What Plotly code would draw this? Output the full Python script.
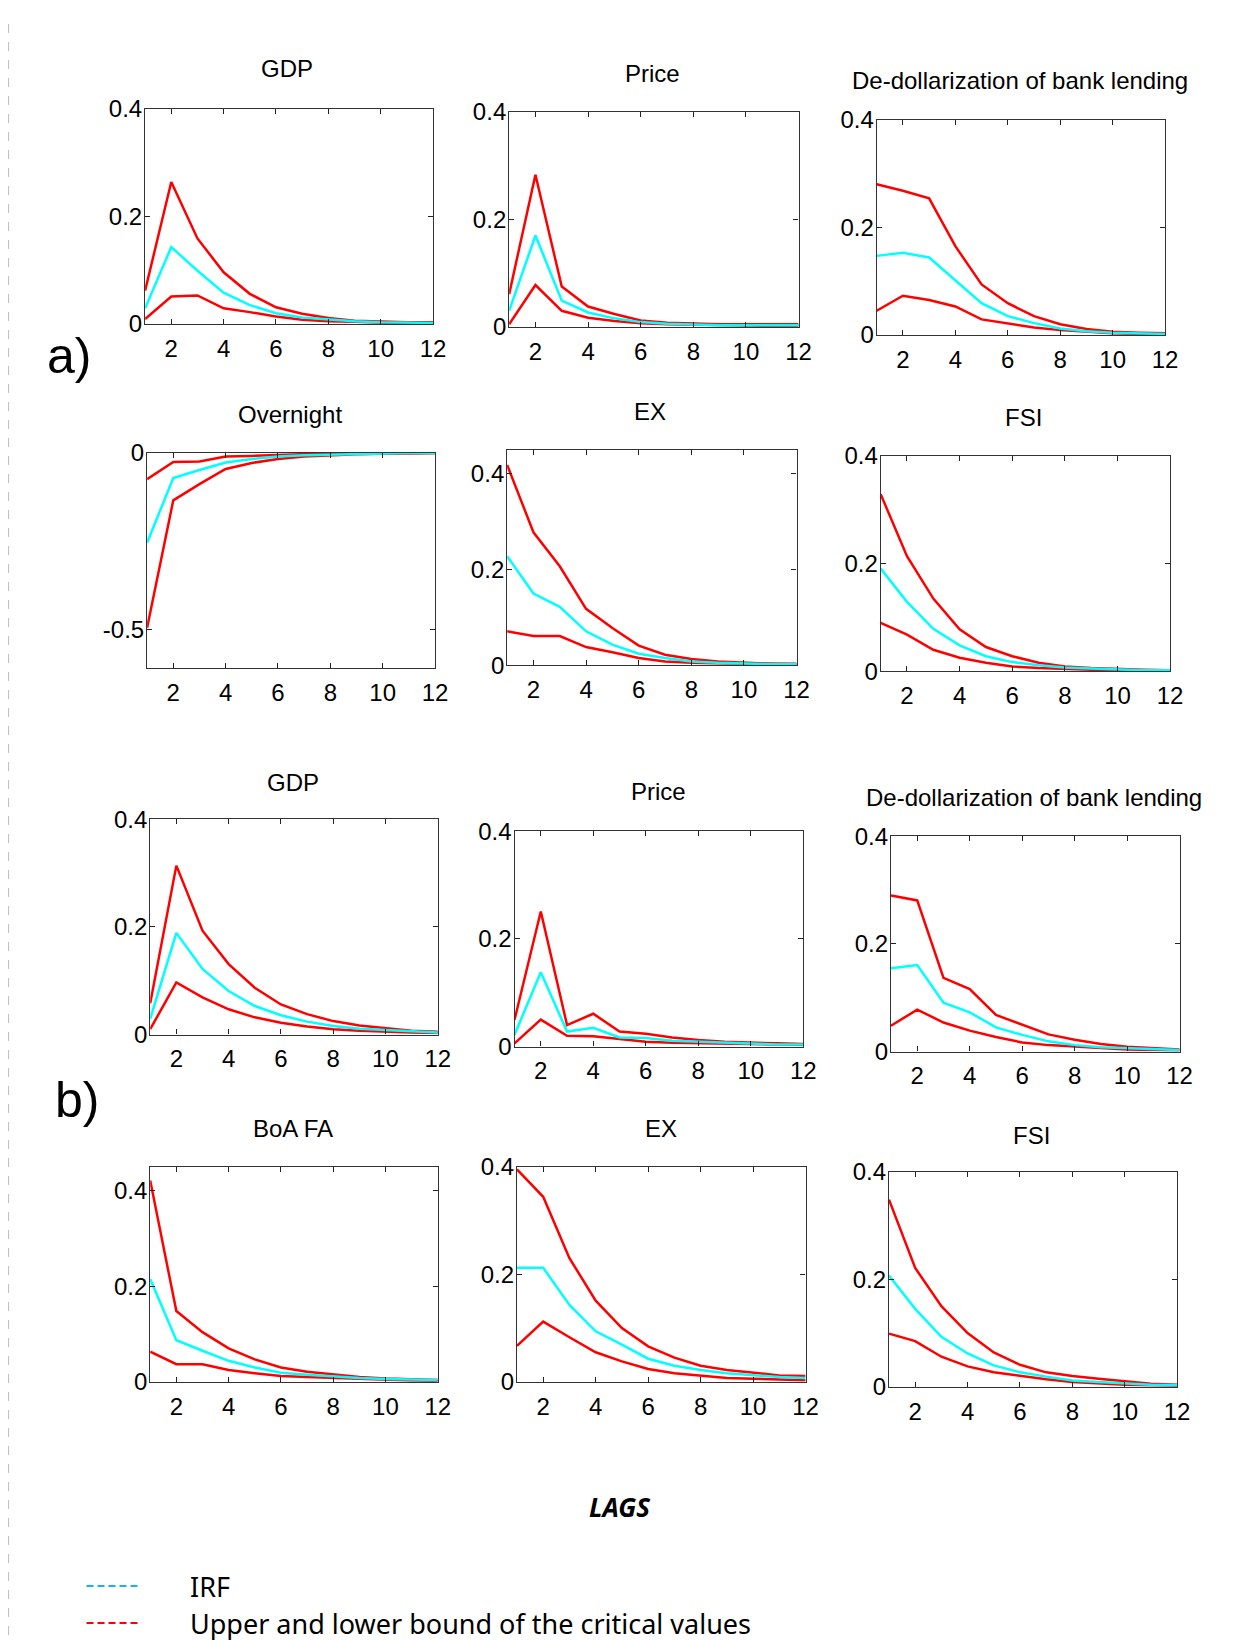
import plotly.graph_objects as go

W, H = 1233, 1640
# measured mapping from figure pixels to the photographed picture (offset + slight shrink)
SX, BX = 0.988, 8.6
SY, BY = 0.9827, 23.3


def px(x):
    return ((x - BX) / SX) / W


def py(y):
    return 1 - ((y - BY) / SY) / H


lags = list(range(1, 13))

titles = ["GDP", "Price", "De-dollarization of bank lending",
          "Overnight", "EX", "FSI",
          "GDP", "Price", "De-dollarization of bank lending",
          "BoA FA", "EX", "FSI"]

# panel a) ---------------------------------------------------------------
gdp_a_up = [0.062, 0.264, 0.159, 0.096, 0.056, 0.031, 0.019, 0.011, 0.006, 0.004, 0.003, 0.003]
gdp_a_irf = [0.029, 0.143, 0.099, 0.058, 0.035, 0.020, 0.012, 0.008, 0.005, 0.003, 0.002, 0.002]
gdp_a_lo = [0.009, 0.051, 0.053, 0.029, 0.022, 0.014, 0.008, 0.005, 0.004, 0.002, 0.001, 0.001]

price_a_up = [0.061, 0.283, 0.075, 0.038, 0.024, 0.012, 0.008, 0.006, 0.005, 0.005, 0.005, 0.005]
price_a_irf = [0.030, 0.170, 0.049, 0.027, 0.016, 0.009, 0.006, 0.004, 0.003, 0.003, 0.003, 0.003]
price_a_lo = [0.005, 0.078, 0.030, 0.017, 0.011, 0.007, 0.005, 0.004, 0.003, 0.003, 0.002, 0.002]

ded_a_up = [0.280, 0.268, 0.254, 0.165, 0.094, 0.059, 0.035, 0.020, 0.011, 0.006, 0.004, 0.003]
ded_a_irf = [0.147, 0.153, 0.144, 0.101, 0.059, 0.035, 0.022, 0.012, 0.007, 0.004, 0.003, 0.002]
ded_a_lo = [0.045, 0.073, 0.065, 0.053, 0.029, 0.021, 0.014, 0.009, 0.006, 0.003, 0.002, 0.001]

ovn_up = [-0.074, -0.025, -0.024, -0.010, -0.008, -0.005, -0.003, -0.002, -0.001, 0.0, 0.0, 0.0]
ovn_irf = [-0.254, -0.071, -0.048, -0.027, -0.017, -0.010, -0.006, -0.004, -0.002, -0.001, 0.0, 0.0]
ovn_lo = [-0.495, -0.134, -0.088, -0.045, -0.028, -0.017, -0.010, -0.006, -0.003, -0.002, -0.001, 0.0]

ex_a_up = [0.419, 0.278, 0.207, 0.118, 0.078, 0.041, 0.022, 0.013, 0.008, 0.005, 0.003, 0.003]
ex_a_irf = [0.228, 0.150, 0.122, 0.071, 0.043, 0.024, 0.015, 0.008, 0.005, 0.003, 0.002, 0.002]
ex_a_lo = [0.071, 0.061, 0.061, 0.038, 0.027, 0.015, 0.008, 0.005, 0.004, 0.003, 0.002, 0.002]

fsi_a_up = [0.329, 0.214, 0.135, 0.078, 0.045, 0.028, 0.016, 0.009, 0.006, 0.004, 0.003, 0.002]
fsi_a_irf = [0.191, 0.129, 0.079, 0.048, 0.028, 0.017, 0.011, 0.007, 0.005, 0.003, 0.002, 0.002]
fsi_a_lo = [0.090, 0.068, 0.040, 0.025, 0.016, 0.009, 0.006, 0.004, 0.003, 0.002, 0.001, 0.001]

# panel b) ---------------------------------------------------------------
gdp_b_up = [0.058, 0.314, 0.193, 0.131, 0.087, 0.056, 0.038, 0.025, 0.017, 0.012, 0.007, 0.005]
gdp_b_irf = [0.029, 0.189, 0.122, 0.081, 0.053, 0.036, 0.024, 0.016, 0.011, 0.008, 0.006, 0.004]
gdp_b_lo = [0.010, 0.097, 0.069, 0.047, 0.032, 0.022, 0.015, 0.010, 0.007, 0.005, 0.004, 0.003]

price_b_up = [0.050, 0.251, 0.040, 0.061, 0.028, 0.024, 0.017, 0.012, 0.009, 0.007, 0.006, 0.005]
price_b_irf = [0.022, 0.138, 0.028, 0.035, 0.017, 0.016, 0.011, 0.009, 0.007, 0.005, 0.004, 0.004]
price_b_lo = [0.006, 0.050, 0.020, 0.019, 0.014, 0.009, 0.007, 0.006, 0.005, 0.004, 0.003, 0.003]

ded_b_up = [0.290, 0.281, 0.137, 0.116, 0.068, 0.050, 0.032, 0.022, 0.014, 0.009, 0.006, 0.004]
ded_b_irf = [0.155, 0.161, 0.091, 0.073, 0.045, 0.031, 0.019, 0.012, 0.008, 0.006, 0.004, 0.003]
ded_b_lo = [0.048, 0.078, 0.054, 0.039, 0.027, 0.017, 0.012, 0.009, 0.006, 0.004, 0.003, 0.002]

boa_up = [0.421, 0.148, 0.104, 0.070, 0.047, 0.030, 0.021, 0.015, 0.010, 0.007, 0.005, 0.004]
boa_irf = [0.215, 0.087, 0.065, 0.044, 0.030, 0.019, 0.015, 0.011, 0.008, 0.006, 0.005, 0.004]
boa_lo = [0.063, 0.037, 0.037, 0.025, 0.018, 0.012, 0.010, 0.008, 0.006, 0.004, 0.003, 0.002]

ex_b_up = [0.395, 0.344, 0.230, 0.151, 0.100, 0.066, 0.045, 0.030, 0.022, 0.017, 0.012, 0.011]
ex_b_irf = [0.212, 0.212, 0.143, 0.094, 0.069, 0.043, 0.030, 0.022, 0.016, 0.012, 0.009, 0.007]
ex_b_lo = [0.067, 0.112, 0.083, 0.055, 0.038, 0.024, 0.016, 0.011, 0.007, 0.006, 0.004, 0.003]

fsi_b_up = [0.348, 0.221, 0.150, 0.100, 0.064, 0.041, 0.027, 0.020, 0.015, 0.011, 0.006, 0.004]
fsi_b_irf = [0.207, 0.145, 0.093, 0.062, 0.040, 0.027, 0.019, 0.012, 0.009, 0.006, 0.004, 0.003]
fsi_b_lo = [0.099, 0.085, 0.056, 0.038, 0.027, 0.020, 0.014, 0.009, 0.006, 0.004, 0.003, 0.002]

series = [
    (gdp_a_up, gdp_a_irf, gdp_a_lo), (price_a_up, price_a_irf, price_a_lo), (ded_a_up, ded_a_irf, ded_a_lo),
    (ovn_up, ovn_irf, ovn_lo), (ex_a_up, ex_a_irf, ex_a_lo), (fsi_a_up, fsi_a_irf, fsi_a_lo),
    (gdp_b_up, gdp_b_irf, gdp_b_lo), (price_b_up, price_b_irf, price_b_lo), (ded_b_up, ded_b_irf, ded_b_lo),
    (boa_up, boa_irf, boa_lo), (ex_b_up, ex_b_irf, ex_b_lo), (fsi_b_up, fsi_b_irf, fsi_b_lo),
]

y_ranges = [[0, 0.4], [0, 0.4], [0, 0.4], [-0.61, 0], [0, 0.45], [0, 0.4],
            [0, 0.4], [0, 0.4], [0, 0.4], [0, 0.45], [0, 0.4], [0, 0.4]]
y_ticks = [[0, 0.2, 0.4]] * 3 + [[-0.5, 0]] + [[0, 0.2, 0.4]] * 8
y_ticktext = [["0", "0.2", "0.4"]] * 3 + [["-0.5", "0"]] + [["0", "0.2", "0.4"]] * 8
x_ticks = [2, 4, 6, 8, 10, 12]

# panel boxes in picture pixels: x0, x1, y_top, y_bottom
boxes = [
    (145.5, 433, 110, 325), (509, 798, 113, 328), (876, 1164, 121, 336),
    (147.5, 435, 454, 669), (507, 796, 451, 666), (880, 1169, 457, 672),
    (150.6, 437.7, 820, 1035), (514.4, 802.7, 832, 1047), (890.3, 1178.5, 837, 1052),
    (150.6, 437.7, 1167, 1382), (516.8, 805, 1167, 1382), (888.3, 1176, 1172, 1387),
]
title_pos = [
    (287, 70), (652, 75), (1019, 82),
    (290, 415), (650, 412), (1023, 418),
    (293, 783), (658, 792), (1033, 798),
    (293, 1129), (661, 1129), (1031, 1136),
]

FONT = "Liberation Sans Narrow, Arial Narrow, Liberation Sans, Arial, sans-serif"
TXT = "Noto Sans, Open Sans, sans-serif"
RED = "#FF0000"
CYAN = "#00FFFF"

fig = go.Figure()
layout = dict(
    width=W, height=H, margin=dict(l=0, r=0, t=0, b=0),
    paper_bgcolor="white", plot_bgcolor="white", showlegend=False,
    font=dict(family=FONT, size=24, color="black"),
)
annotations = []
shapes = []

for i, (s, box) in enumerate(zip(series, boxes)):
    k = "" if i == 0 else str(i + 1)
    up, irf, lo = s
    for vals, col in ((lo, RED), (up, RED), (irf, CYAN)):
        fig.add_trace(go.Scatter(x=lags, y=vals, mode="lines",
                                 line=dict(color=col, width=2.5),
                                 xaxis="x" + k, yaxis="y" + k, hoverinfo="skip"))
    x0, x1, yt, yb = box
    common = dict(ticks="inside", ticklen=5, tickcolor="#222", showline=True, linecolor="#333",
                  linewidth=1.2, mirror="ticks", showgrid=False, zeroline=False,
                  tickfont=dict(family=FONT, size=24, color="black"))
    layout["xaxis" + k] = dict(
        domain=[px(x0), px(x1)], range=[1, 12], anchor="y" + k, ticklabelstandoff=3,
        tickmode="array", tickvals=x_ticks, ticktext=[str(t) for t in x_ticks], **common)
    layout["yaxis" + k] = dict(
        domain=[py(yb), py(yt)], range=y_ranges[i], anchor="x" + k, ticklabelstandoff=-3,
        tickmode="array", tickvals=y_ticks[i], ticktext=y_ticktext[i], **common)
    tx, ty = title_pos[i]
    annotations.append(dict(text=titles[i], x=px(tx), y=py(ty), xref="paper", yref="paper",
                            xanchor="center", yanchor="middle", showarrow=False,
                            font=dict(family=FONT, size=24, color="black")))

# panel labels
annotations.append(dict(text="a)", x=px(70), y=py(357), xref="paper", yref="paper",
                        xanchor="center", yanchor="middle", showarrow=False,
                        font=dict(family=FONT, size=50, color="black")))
annotations.append(dict(text="b)", x=px(77), y=py(1100), xref="paper", yref="paper",
                        xanchor="center", yanchor="middle", showarrow=False,
                        font=dict(family=FONT, size=50, color="black")))

# axis caption
annotations.append(dict(text="<b><i>LAGS</i></b>", x=px(620), y=py(1507), xref="paper", yref="paper",
                        xanchor="center", yanchor="middle", showarrow=False,
                        font=dict(family=TXT, size=26, color="black")))

# legend
legend_items = [("IRF", "#1EAFEF", 1586), ("Upper and lower bound of the critical values", RED, 1623)]
for label, col, ly in legend_items:
    shapes.append(dict(type="line", xref="paper", yref="paper", x0=px(87), x1=px(142),
                       y0=py(ly), y1=py(ly), line=dict(color=col, width=2, dash="7px,4px")))
    annotations.append(dict(text=label, x=px(188), y=py(ly), xref="paper", yref="paper",
                            xanchor="left", yanchor="middle", showarrow=False,
                            font=dict(family=TXT, size=27, color="black")))

# page frame (dashed, left edge)
shapes.append(dict(type="line", xref="paper", yref="paper", x0=0.0005, x1=0.0005,
                   y0=0, y1=1, line=dict(color="#BBBBBB", width=1, dash="dash")))

layout["annotations"] = annotations
layout["shapes"] = shapes
fig.update_layout(**layout)
fig.write_html("out.html")
